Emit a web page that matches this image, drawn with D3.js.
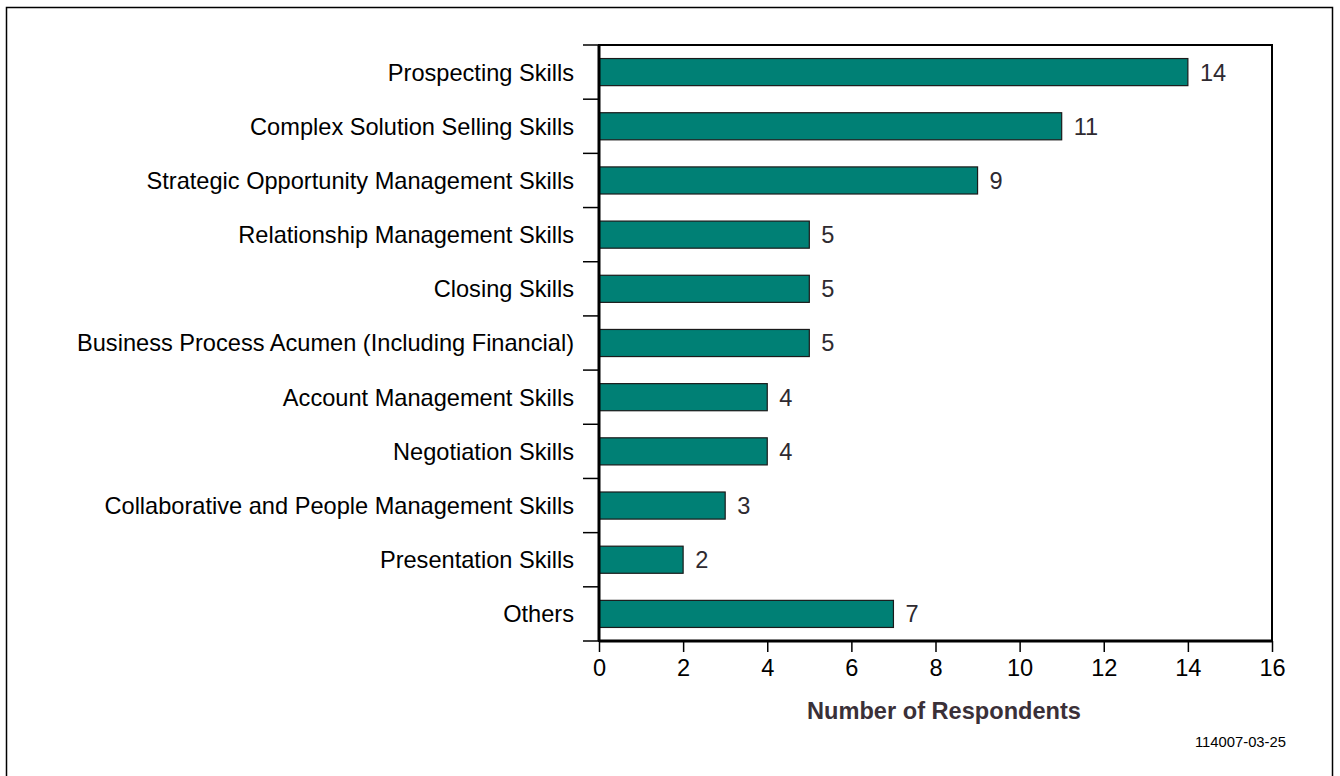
<!DOCTYPE html>
<html>
<head>
<meta charset="utf-8">
<script src="https://cdn.jsdelivr.net/npm/d3@7"></script>
<style>
  html, body { margin: 0; padding: 0; background: #fff; }
  svg { display: block; font-family: "Liberation Sans", Arial, Helvetica, sans-serif; }
</style>
</head>
<body>
<svg id="chart" width="1340" height="776"></svg>
<script>
// Skills most in need of development, by number of respondents
const categories = [
  "Prospecting Skills",
  "Complex Solution Selling Skills",
  "Strategic Opportunity Management Skills",
  "Relationship Management Skills",
  "Closing Skills",
  "Business Process Acumen (Including Financial)",
  "Account Management Skills",
  "Negotiation Skills",
  "Collaborative and People Management Skills",
  "Presentation Skills",
  "Others"
];
const respondents = [14, 11, 9, 5, 5, 5, 4, 4, 3, 2, 7];
const xTicks = [0, 2, 4, 6, 8, 10, 12, 14, 16];
const xTitle = "Number of Respondents";
const docId = "114007-03-25";

const svg = d3.select("#chart");
const plot = { left: 599, right: 1272, top: 45, bottom: 641 };
const fontSize = 23.6;

// outer frame
svg.append("rect")
  .attr("x", 6.5).attr("y", 7.5)
  .attr("width", 1326).attr("height", 780)
  .attr("fill", "none").attr("stroke", "#000").attr("stroke-width", 1.5);

const x = d3.scaleLinear().domain([0, 16]).range([plot.left, plot.right]);
const y = d3.scaleBand().domain(categories).range([plot.top, plot.bottom]).paddingInner(0).paddingOuter(0);
const barH = y.bandwidth() * 0.5;

// bars
svg.append("g").selectAll("rect")
  .data(categories)
  .join("rect")
  .attr("x", x(0))
  .attr("y", d => y(d) + (y.bandwidth() - barH) / 2)
  .attr("width", (d, i) => x(respondents[i]) - x(0))
  .attr("height", barH)
  .attr("fill", "#008075")
  .attr("stroke", "#1a1a1a")
  .attr("stroke-width", 1.2);

// value labels
svg.append("g").selectAll("text")
  .data(categories)
  .join("text")
  .attr("x", (d, i) => x(respondents[i]) + 12)
  .attr("y", d => y(d) + y.bandwidth() / 2)
  .attr("dy", "0.36em")
  .attr("font-size", fontSize)
  .attr("fill", "#2e2a30")
  .text((d, i) => respondents[i]);

// category labels
svg.append("g").selectAll("text")
  .data(categories)
  .join("text")
  .attr("x", plot.left - 25)
  .attr("y", d => y(d) + y.bandwidth() / 2)
  .attr("dy", "0.36em")
  .attr("text-anchor", "end")
  .attr("font-size", fontSize)
  .attr("fill", "#000")
  .text(d => d);

// category boundary ticks on the left
const bounds = categories.map(c => y(c)).concat([plot.bottom]);
svg.append("g").selectAll("line")
  .data(bounds)
  .join("line")
  .attr("x1", plot.left - 16).attr("x2", plot.left)
  .attr("y1", d => d).attr("y2", d => d)
  .attr("stroke", "#000").attr("stroke-width", 1.5);

// bottom axis
const xAxis = d3.axisBottom(x).tickValues(xTicks).tickSize(11).tickPadding(7);
const gx = svg.append("g").attr("transform", `translate(0,${plot.bottom})`).call(xAxis);
gx.select(".domain").remove();
gx.selectAll(".tick line").attr("stroke", "#000").attr("stroke-width", 1.5);
gx.selectAll(".tick text").attr("font-size", fontSize).attr("fill", "#000")
  .attr("font-family", "Liberation Sans, Arial, sans-serif");

// plot frame
svg.append("rect")
  .attr("x", plot.left).attr("y", plot.top)
  .attr("width", plot.right - plot.left).attr("height", plot.bottom - plot.top)
  .attr("fill", "none").attr("stroke", "#000").attr("stroke-width", 2);
svg.append("line")
  .attr("x1", plot.left).attr("x2", plot.left)
  .attr("y1", plot.top).attr("y2", plot.bottom)
  .attr("stroke", "#000").attr("stroke-width", 3);
svg.append("line")
  .attr("x1", plot.left).attr("x2", plot.right)
  .attr("y1", plot.bottom).attr("y2", plot.bottom)
  .attr("stroke", "#000").attr("stroke-width", 3);

// axis title
svg.append("text")
  .attr("x", (806 + 1082) / 2)
  .attr("y", 719)
  .attr("text-anchor", "middle")
  .attr("font-size", fontSize)
  .attr("font-weight", "bold")
  .attr("fill", "#3a3038")
  .text(xTitle);

// document id
svg.append("text")
  .attr("x", 1286)
  .attr("y", 747)
  .attr("text-anchor", "end")
  .attr("font-size", 14.8)
  .attr("fill", "#000")
  .text(docId);
</script>
</body>
</html>
